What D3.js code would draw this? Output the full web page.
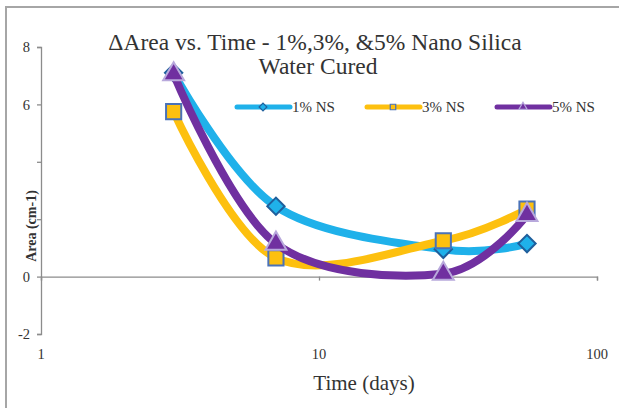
<!DOCTYPE html>
<html>
<head>
<meta charset="utf-8">
<script src="https://cdn.jsdelivr.net/npm/d3@7"></script>
<style>
  html, body { margin: 0; padding: 0; background: #fff; }
  svg { display: block; font-family: 'Liberation Serif', 'Times New Roman', serif; }
</style>
</head>
<body>
<script>
const days = [3, 7, 28, 56]
const ns1 = [7.1, 2.45, 0.95, 1.15]
const ns3 = [5.75, 0.65, 1.25, 2.35]
const ns5 = [7.05, 1.15, 0.1, 2.15]
const seriesNames = ['1% NS', '3% NS', '5% NS']
const xTicks = [1, 10, 100]
const yTicks = [-2, 0, 2, 4, 6, 8]
const yTickLabels = ['-2', '0', '', '', '6', '8']

const WIDTH = 619, HEIGHT = 408

const x = d3.scaleLog().domain([1, 100]).range([41, 597])
const y = d3.scaleLinear().domain([-2, 8]).range([334, 47])

const styles = [
  { color: '#1fb1ea', marker: d3.symbolSquare, rotate: 45, fill: '#1fb1ea', stroke: '#1f5f9c', size: 150 },
  { color: '#fdc00f', marker: d3.symbolSquare, rotate: 0, fill: '#fdc00f', stroke: '#4a72b8', size: 230 },
  { color: '#7030a0', marker: d3.symbolTriangle, rotate: 0, fill: '#7030a0', stroke: '#b8a9dc', size: 190 }
]
const seriesValues = [ns1, ns3, ns5]

const svg = d3.select('body').append('svg')
  .attr('width', WIDTH)
  .attr('height', HEIGHT)

// chart frame
svg.append('rect')
  .attr('x', 6).attr('y', 7)
  .attr('width', WIDTH + 20).attr('height', HEIGHT + 20)
  .attr('fill', 'none')
  .attr('stroke', '#a6a6a6')
  .attr('stroke-width', 2)

// y axis
const yAxis = svg.append('g')
  .attr('transform', `translate(${x(1)},0)`)
  .call(d3.axisLeft(y).tickValues(yTicks).tickSize(4).tickSizeOuter(4)
    .tickFormat((d, i) => yTickLabels[i]))
yAxis.select('.domain').attr('stroke', '#8c8c8c').attr('stroke-width', 1.3)
yAxis.selectAll('.tick line').attr('stroke', '#8c8c8c').attr('stroke-width', 1.3)
yAxis.selectAll('.tick text')
  .attr('x', -11)
  .attr('font-size', 14.5)
  .attr('font-family', 'Liberation Serif')
  .attr('fill', '#333')

// x axis crosses at 0
const xAxis = svg.append('g')
  .attr('transform', `translate(0,${y(0)})`)
  .call(d3.axisBottom(x).tickValues(xTicks).tickSize(4).tickSizeOuter(4).tickFormat(''))
xAxis.select('.domain').attr('stroke', '#8c8c8c').attr('stroke-width', 1.3)
xAxis.selectAll('.tick line').attr('stroke', '#8c8c8c').attr('stroke-width', 1.3)

// x tick labels at the bottom
svg.append('g')
  .selectAll('text')
  .data(xTicks)
  .enter()
  .append('text')
  .attr('x', d => x(d))
  .attr('y', y(-2) + 25)
  .attr('text-anchor', 'middle')
  .attr('font-size', 14.5)
  .attr('fill', '#333')
  .text(d => d)

// series
const line = d3.line()
  .x((d, i) => x(days[i]))
  .y(d => y(d))
  .curve(d3.curveCatmullRom.alpha(0))

seriesValues.forEach((vals, s) => {
  const st = styles[s]
  const g = svg.append('g')
  g.append('path')
    .attr('d', line(vals))
    .attr('fill', 'none')
    .attr('stroke', st.color)
    .attr('stroke-width', 8)
    .attr('stroke-linecap', 'round')
  g.selectAll('path.marker')
    .data(vals)
    .enter()
    .append('path')
    .attr('class', 'marker')
    .attr('transform', (d, i) => `translate(${x(days[i])},${y(d)}) rotate(${st.rotate})`)
    .attr('d', d3.symbol().type(st.marker).size(st.size))
    .attr('fill', st.fill)
    .attr('stroke', st.stroke)
    .attr('stroke-width', 2)
})

// legend
const legendX = [237, 367, 497]
const legend = svg.append('g').attr('transform', 'translate(0,107)')
seriesNames.forEach((name, s) => {
  const st = styles[s]
  const g = legend.append('g').attr('transform', `translate(${legendX[s]},0)`)
  g.append('line')
    .attr('x1', 0).attr('x2', 53)
    .attr('stroke', st.color)
    .attr('stroke-width', 5)
    .attr('stroke-linecap', 'round')
  g.append('path')
    .attr('transform', `translate(26,0) rotate(${st.rotate})`)
    .attr('d', d3.symbol().type(st.marker).size(30))
    .attr('fill', st.fill)
    .attr('stroke', st.stroke)
    .attr('stroke-width', 1.2)
  g.append('text')
    .attr('x', 55)
    .attr('y', 5)
    .attr('font-size', 15)
    .attr('fill', '#333')
    .text(name)
})

// titles
svg.append('text')
  .attr('x', 315).attr('y', 50)
  .attr('text-anchor', 'middle')
  .attr('font-size', 23.5)
  .attr('fill', '#333')
  .text('\u0394Area vs. Time - 1%,3%, &5% Nano Silica')
svg.append('text')
  .attr('x', 318).attr('y', 74)
  .attr('text-anchor', 'middle')
  .attr('font-size', 23.5)
  .attr('fill', '#333')
  .text('Water Cured')

svg.append('text')
  .attr('transform', `translate(${36},${226}) rotate(-90)`)
  .attr('text-anchor', 'middle')
  .attr('font-size', 14)
  .attr('font-weight', 'bold')
  .attr('fill', '#333')
  .text('Area (cm-1)')

svg.append('text')
  .attr('x', 364).attr('y', 390)
  .attr('text-anchor', 'middle')
  .attr('font-size', 21)
  .attr('fill', '#333')
  .text('Time (days)')
</script>
</body>
</html>
